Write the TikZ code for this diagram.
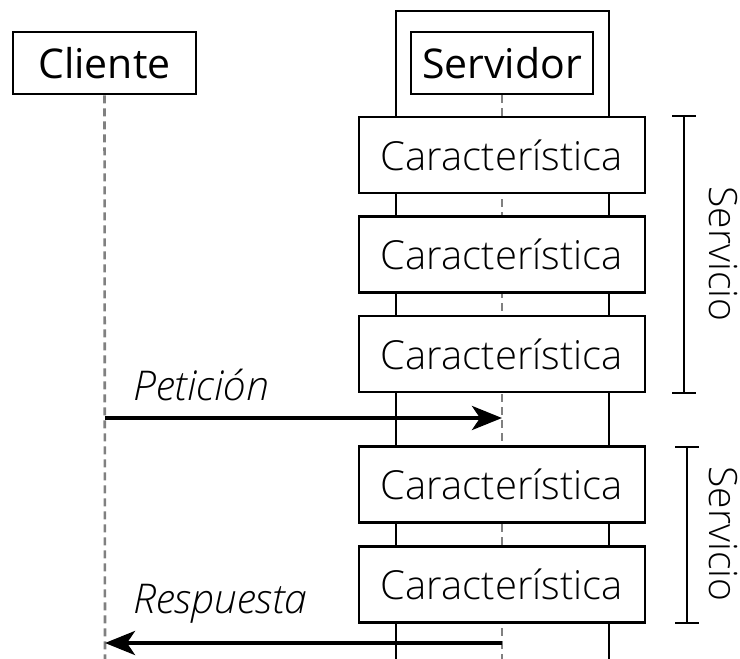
\documentclass[tikz,border=0pt]{standalone}
\usepackage{fontspec}
\setmainfont{Open Sans}
\newfontfamily\lightfont{Open Sans Light}
\usetikzlibrary{arrows.meta}
\begin{document}
\begin{tikzpicture}[x=1pt,y=-1pt,
  actor/.style={draw, line width=2.6pt, fill=white, inner sep=0pt, minimum height=62pt, font=\fontsize{41}{48}\selectfont},
  feature/.style={draw, line width=2.6pt, fill=white, inner sep=0pt, minimum width=286pt, minimum height=76pt, font=\lightfont\fontsize{40}{48}\selectfont},
  lifeline/.style={draw=black!50, line width=2.6pt, dash pattern=on 8pt off 5pt},
  frame/.style={draw, line width=2.6pt},
  msg/.style={line width=4pt, -{Stealth[length=30pt,width=24pt,inset=8pt]}},
  msglabel/.style={anchor=base west, inner sep=0pt, font=\lightfont\itshape\fontsize{41}{48}\selectfont},
  bracket/.style={draw, line width=2.6pt},
  svclabel/.style={rotate=-90, anchor=base, inner sep=0pt, font=\lightfont\fontsize{39}{48}\selectfont}
]
\useasboundingbox (0,0) rectangle (740,659);
% server frame
\coordinate (fbl) at (396,659);
\coordinate (ftl) at (396,11);
\coordinate (ftr) at (609,11);
\coordinate (fbr) at (609,659);
\draw[frame] (fbl) -- (ftl) -- (ftr) -- (fbr);
% actors
\node[actor, minimum width=183pt] (cli) at (104.5,63) {Cliente};
\node[actor, minimum width=182pt] (srv) at (502,63) {Servidor};
% lifelines
\coordinate (cliend) at (105,659);
\coordinate (srvend) at (502,659);
\draw[lifeline] (cli.south) -- (cliend);
\draw[lifeline] (srv.south) -- (srvend);
% features
\node[feature] (c1) at (502,155) {Característica};
\node[feature] (c2) at (502,254.5) {Característica};
\node[feature] (c3) at (502,354) {Característica};
\node[feature] (c4) at (502,484.5) {Característica};
\node[feature] (c5) at (502,584.5) {Característica};
% messages
\coordinate (p1) at (105,418);
\coordinate (p2) at (502,418);
\coordinate (r1) at (502,643);
\coordinate (r2) at (105,643);
\draw[msg] (p1) -- (p2);
\draw[msg] (r1) -- (r2);
\node[msglabel] (pl) at (133,400) {Petición};
\node[msglabel] (rl) at (133,613) {Respuesta};
% brackets
\coordinate (b1t) at (684,116);
\coordinate (b1b) at (684,393);
\draw[bracket] (b1t) -- (b1b);
\draw[bracket] ([xshift=-12pt]b1t) -- ([xshift=12pt]b1t);
\draw[bracket] ([xshift=-12pt]b1b) -- ([xshift=12pt]b1b);
\coordinate (b2t) at (687,447);
\coordinate (b2b) at (687,623);
\draw[bracket] (b2t) -- (b2b);
\draw[bracket] ([xshift=-12pt]b2t) -- ([xshift=12pt]b2t);
\draw[bracket] ([xshift=-12pt]b2b) -- ([xshift=12pt]b2b);
\node[svclabel] (s1) at (709,254) {Servicio};
\node[svclabel] (s2) at (709,534) {Servicio};
\end{tikzpicture}
\end{document}
